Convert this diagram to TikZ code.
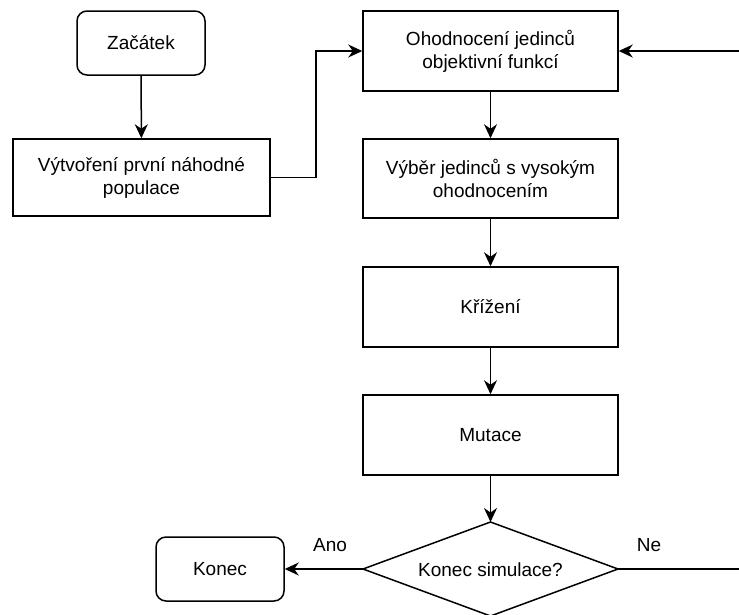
\documentclass[tikz,border=0pt]{standalone}
\usepackage{fontspec}
\setmainfont{Liberation Sans}
\usetikzlibrary{arrows.meta}
\begin{document}
\begin{tikzpicture}[x=1pt,y=-1pt,
  every node/.style={font=\fontsize{19}{23}\selectfont, align=center, inner sep=0pt},
  box/.style={draw, line width=1.5pt, minimum width=255pt, minimum height=80pt},
  term/.style={draw, line width=1.5pt, rounded corners=10pt, minimum width=128pt, minimum height=64pt},
  conn/.style={line width=1.5pt, -{Stealth[length=14pt,width=13pt,inset=4.5pt]}},
  lbl/.style={font=\fontsize{19}{23}\selectfont}]
\useasboundingbox (0,0) rectangle (739,614);
\clip (0,0) rectangle (739,614);
\node[term] (start) at (141,43) {Začátek};
\node[box, minimum width=257pt, minimum height=77pt] (init) at (141.5,177.5) {Výtvoření první náhodné\\populace};
\node[box] (eval) at (490.5,51) {Ohodnocení jedinců\\objektivní funkcí};
\node[box, minimum height=79pt] (sel) at (490.5,178.5) {Výběr jedinců s vysokým\\ohodnocením};
\node[box] (cross) at (490.5,307) {Křížení};
\node[box] (mut) at (490.5,435) {Mutace};
\coordinate (dt) at (490.5,522);
\coordinate (dl) at (363,569);
\coordinate (dr) at (618,569);
\coordinate (db) at (490.5,616);
\draw[line width=1.5pt] (dl) -- (dt) -- (dr) -- (db) -- cycle;
\node (dtext) at (490.5,570) {Konec simulace?};
\node[term] (end) at (220,569) {Konec};
\coordinate (loopA) at (760,569);
\coordinate (loopB) at (760,51);
\draw[conn] (start) -- (init);
\draw[conn] (init.east) -- (316,177.5) |- (eval.west);
\draw[conn] (eval) -- (sel);
\draw[conn] (sel) -- (cross);
\draw[conn] (cross) -- (mut);
\draw[conn] (mut.south) -- (dt);
\draw[conn] (dl) -- (end.east);
\draw[line width=1.5pt] (dr) -- (loopA) -- (loopB);
\draw[conn] (loopB) -- (eval.east);
\node[lbl] (ano) at (330,545) {Ano};
\node[lbl] (ne) at (649,545) {Ne};
\end{tikzpicture}
\end{document}
